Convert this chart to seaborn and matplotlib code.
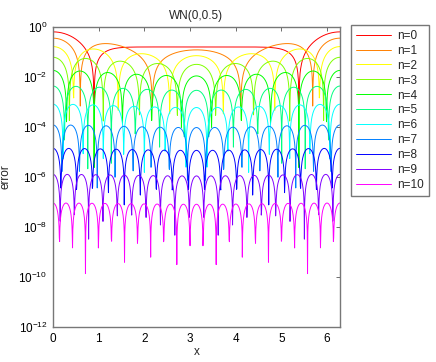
import numpy as np
import pandas as pd
import matplotlib
matplotlib.use("Agg")
import matplotlib.pyplot as plt
import seaborn as sns

# --- chart data / parameters ---
title = "WN(0,0.5)"
mu = 0.0
sigma = 0.5
orders = [0, 1, 2, 3, 4, 5, 6, 7, 8, 9, 10]
labels = [f"n={n}" for n in orders]
hues = [n / 12 for n in orders]           # hsv hue of each series
x_ticks = [0, 1, 2, 3, 4, 5, 6]
y_tick_exps = [0, -2, -4, -6, -8, -10, -12]
n_points = 1000
k_max = 60

sns.set_theme(style="white")
plt.rcParams['font.family'] = ['Liberation Sans', 'DejaVu Sans']
plt.rcParams['mathtext.fontset'] = 'custom'
plt.rcParams['mathtext.rm'] = 'Liberation Sans'
plt.rcParams['mathtext.it'] = 'Liberation Sans'

# evaluation grid and error of truncated Fourier series of the wrapped normal
x = np.linspace(0, 2 * np.pi, n_points)
k = np.arange(1, k_max + 1)
coef = np.exp(-k ** 2 * sigma ** 2 / 2)
terms = (2 * coef[:, None] * np.cos(k[:, None] * (x[None, :] - mu))) / (2 * np.pi)

rows = []
for n in orders:
    err = np.abs(terms[n:].sum(axis=0))
    err = np.maximum(err, 1e-13)
    rows.append(pd.DataFrame({"x": x, "error": err, "series": f"n={n}"}))
df = pd.concat(rows, ignore_index=True)

colors = [matplotlib.colors.hsv_to_rgb((h, 1, 1)) for h in hues]
palette = dict(zip(labels, colors))

fig = plt.figure(figsize=(4.36, 3.62), dpi=100)
ax = fig.add_axes([53 / 436, 1 - 327 / 362, (340 - 53) / 436, (327 - 27) / 362])
sns.lineplot(data=df, x="x", y="error", hue="series", hue_order=labels,
             palette=palette, linewidth=0.7, ax=ax, legend=False,
             estimator=None, sort=False)
ax.set_yscale("log")
ax.set_xlim(0, 2 * np.pi)
ax.set_ylim(1e-12, 1e0)
ax.set_xticks(x_ticks)
ax.set_xticklabels([str(t) for t in x_ticks])
ax.set_yticks([10.0 ** e for e in y_tick_exps])
ax.set_yticklabels([f"$10^{{{e}}}$" for e in y_tick_exps])
ax.yaxis.set_minor_locator(matplotlib.ticker.NullLocator())
ax.tick_params(axis="both", which="major", direction="in", length=3, width=0.6,
               color="#555555", labelsize=8.5, top=True, right=True,
               labelcolor="black", pad=4)
for s in ax.spines.values():
    s.set_color("#777777")
    s.set_linewidth(1.0)
ax.set_title(title, fontsize=8.5, pad=6)
ax.set_xlabel("x", fontsize=8.5, labelpad=1)
ax.set_ylabel("error", fontsize=8.5, labelpad=5)

handles = [matplotlib.lines.Line2D([], [], color=c, linewidth=0.7) for c in colors]
leg = fig.legend(handles, labels, loc="upper left",
                 bbox_to_anchor=(351 / 436, 1 - 25 / 362),
                 fontsize=8.5, frameon=True, fancybox=False,
                 handlelength=3.0, handletextpad=0.5, labelspacing=0.25,
                 borderpad=0.4, borderaxespad=0)
leg.get_frame().set_edgecolor("#555555")
leg.get_frame().set_linewidth(1.0)

fig.savefig("out.png", dpi=100)
